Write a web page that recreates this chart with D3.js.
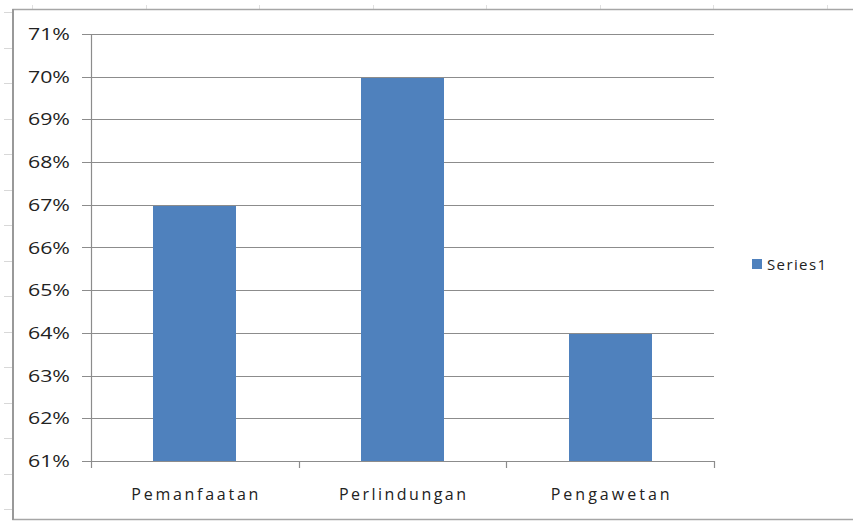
<!DOCTYPE html>
<html><head><meta charset="utf-8">
<script src="https://cdn.jsdelivr.net/npm/d3@7"></script>
<style>body{margin:0;background:#fff}svg{display:block}text{font-family:"Open Sans","DejaVu Sans",sans-serif;fill:#222}</style>
</head><body><svg id="c" width="853" height="521"></svg>
<script>
const categories = ["Pemanfaatan", "Perlindungan", "Pengawetan"];
const values = [0.67, 0.70, 0.64];
const yTicks = [0.61,0.62,0.63,0.64,0.65,0.66,0.67,0.68,0.69,0.70,0.71];
const seriesName = "Series1";

const svg = d3.select("#c");
const color = "#4F81BD";
const grid = "#8c8c8c";

// sheet row/column markers
const rows = d3.range(15).map(i => 12 + i*35.5);
svg.selectAll(".rm").data(rows).enter().append("line")
  .attr("x1",4).attr("x2",13).attr("y1",d=>Math.round(d)+0.5).attr("y2",d=>Math.round(d)+0.5)
  .attr("stroke","#d8d8d8");
const cols = d3.range(8).map(i => 32 + i*113.5);
svg.selectAll(".cm").data(cols).enter().append("line")
  .attr("y1",5).attr("y2",9).attr("x1",d=>Math.round(d)+0.5).attr("x2",d=>Math.round(d)+0.5)
  .attr("stroke","#e0e0e0");

// chart border
svg.append("rect").attr("x",13).attr("y",9.5).attr("width",845).attr("height",510)
  .attr("fill","#fff").attr("stroke","#a6a6a6").attr("stroke-width",1.5);
svg.append("line").attr("x1",13).attr("x2",13).attr("y1",9).attr("y2",520)
  .attr("stroke","#999").attr("stroke-width",2);

const x = d3.scaleBand().domain(categories).range([91,714]).paddingInner(0.6).paddingOuter(0.3);
const xb = d3.scaleBand().domain(categories).range([91,714]);
const y = d3.scaleLinear().domain([0.61,0.71]).range([461,34]);

// gridlines
svg.append("g").selectAll("line").data(yTicks).enter().append("line")
  .attr("x1",82).attr("x2",714)
  .attr("y1",d=>Math.round(y(d))+0.5).attr("y2",d=>Math.round(y(d))+0.5)
  .attr("stroke",grid).attr("stroke-width",1.2);

// bars
svg.append("g").selectAll("rect").data(values).enter().append("rect")
  .attr("x",(d,i)=>Math.round(x(categories[i])))
  .attr("width",Math.round(x.bandwidth()))
  .attr("y",d=>Math.round(y(d))+1)
  .attr("height",d=>Math.round(y(0.61))-Math.round(y(d))-1)
  .attr("fill",color);

// y axis line
svg.append("line").attr("x1",91.5).attr("x2",91.5).attr("y1",34).attr("y2",462)
  .attr("stroke",grid).attr("stroke-width",1.2);
// x axis line & ticks
svg.append("line").attr("x1",91).attr("x2",714).attr("y1",461.5).attr("y2",461.5)
  .attr("stroke",grid).attr("stroke-width",1.2);
const bounds = categories.map(c=>xb(c)).concat([714]);
svg.append("g").selectAll("line").data(bounds).enter().append("line")
  .attr("x1",d=>Math.round(d)+0.5).attr("x2",d=>Math.round(d)+0.5)
  .attr("y1",461).attr("y2",468).attr("stroke",grid).attr("stroke-width",1.2);

// y labels
svg.append("g").selectAll("text").data(yTicks).enter().append("text")
  .attr("x",70).attr("y",d=>y(d)+6).attr("text-anchor","end")
  .attr("font-size",16.5).attr("textLength",42).attr("lengthAdjust","spacingAndGlyphs")
  .text(d=>Math.round(d*100)+"%");

// x labels
const labW = {"Pemanfaatan":127,"Perlindungan":127,"Pengawetan":119};
svg.append("g").selectAll("text").data(categories).enter().append("text")
  .attr("x",d=>xb(d)+xb.bandwidth()/2).attr("y",500).attr("text-anchor","middle")
  .attr("font-size",16).attr("textLength",d=>labW[d]).attr("lengthAdjust","spacing")
  .text(d=>d);

// legend
svg.append("rect").attr("x",752).attr("y",259).attr("width",10).attr("height",10).attr("fill",color);
svg.append("text").attr("x",767).attr("y",270).attr("font-size",15)
  .attr("textLength",59).attr("lengthAdjust","spacing").text(seriesName);
</script></body></html>
